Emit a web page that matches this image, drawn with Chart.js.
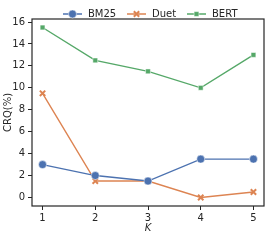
<!DOCTYPE html>
<html>
<head>
<meta charset="utf-8">
<script src="https://cdn.jsdelivr.net/npm/chart.js@4"></script>
<style>
  body { margin: 0; background: #fff; }
  canvas { display: block; }
</style>
</head>
<body>
<canvas id="chart" width="272" height="241"></canvas>
<script>
const kValues = [1, 2, 3, 4, 5];
const bm25 = [3, 2, 1.5, 3.5, 3.5];
const duet = [9.5, 1.5, 1.5, 0, 0.5];
const bert = [15.5, 12.5, 11.5, 10, 13];
const yTicks = [0, 2, 4, 6, 8, 10, 12, 14, 16];

const FONT = 'DejaVu Sans';
const DARK = '#262626';

function pts(values) {
    return kValues.map((k, i) => ({ x: k, y: values[i] }));
}

function drawMarker(ctx, ds, x, y) {
    ctx.save();
    ctx.fillStyle = ds.pointBackgroundColor;
    ctx.strokeStyle = ds.pointBorderColor;
    ctx.lineWidth = ds.pointBorderWidth;
    Chart.helpers.drawPoint(ctx, {
        pointStyle: ds.pointStyle,
        radius: ds.pointRadius,
        borderWidth: ds.pointBorderWidth,
    }, x, y);
    ctx.restore();
}

// frame around the plot + legend drawn like matplotlib
const framePlugin = {
    id: 'frame',
    afterDraw(chart) {
        const ctx = chart.ctx;
        const a = chart.chartArea;
        ctx.save();
        ctx.strokeStyle = DARK;
        ctx.lineWidth = 1.2;
        ctx.strokeRect(a.left, a.top, a.right - a.left, a.bottom - a.top);

        const starts = [63, 127, 187];
        const y = 14;
        ctx.font = '10px ' + FONT;
        ctx.textBaseline = 'middle';
        chart.data.datasets.forEach((ds, i) => {
            const x = starts[i];
            ctx.strokeStyle = ds.borderColor;
            ctx.lineWidth = 1.5;
            ctx.beginPath();
            ctx.moveTo(x, y);
            ctx.lineTo(x + 19, y);
            ctx.stroke();
            drawMarker(ctx, ds, x + 9.5, y);
            ctx.fillStyle = DARK;
            ctx.fillText(ds.label, x + 25, y + 0.5);
        });
        ctx.restore();
    }
};

new Chart(document.getElementById('chart'), {
    type: 'line',
    data: {
        datasets: [
            {
                label: 'BM25',
                data: pts(bm25),
                borderColor: '#4C72B0',
                borderWidth: 1.4,
                pointStyle: 'circle',
                pointRadius: 4,
                pointBackgroundColor: '#4C72B0',
                pointBorderColor: '#ffffff',
                pointBorderWidth: 0.5,
            },
            {
                label: 'Duet',
                data: pts(duet),
                borderColor: '#DD8452',
                borderWidth: 1.4,
                pointStyle: 'crossRot',
                pointRadius: 3.8,
                pointBackgroundColor: '#DD8452',
                pointBorderColor: '#DD8452',
                pointBorderWidth: 2,
            },
            {
                label: 'BERT',
                data: pts(bert),
                borderColor: '#55A868',
                borderWidth: 1.4,
                pointStyle: 'rect',
                pointRadius: 3.4,
                pointBackgroundColor: '#55A868',
                pointBorderColor: '#ffffff',
                pointBorderWidth: 0.5,
            },
        ],
    },
    options: {
        responsive: false,
        animation: false,
        layout: { padding: { top: 19, right: 8, left: 0, bottom: 0 } },
        plugins: {
            legend: { display: false },
            tooltip: { enabled: false },
        },
        scales: {
            x: {
                type: 'linear',
                min: 0.8,
                max: 5.2,
                afterBuildTicks: (s) => { s.ticks = kValues.map((v) => ({ value: v })); },
                afterFit: (s) => { s.height = 35; },
                grid: { drawOnChartArea: false, color: DARK, tickLength: 4, lineWidth: 1 },
                border: { display: false },
                ticks: { color: DARK, padding: 2, font: { family: FONT, size: 10 }, maxRotation: 0 },
                title: {
                    display: true,
                    text: 'K',
                    color: DARK,
                    font: { family: FONT, size: 10, style: 'italic' },
                    padding: { top: 0, bottom: 7 },
                },
            },
            y: {
                type: 'linear',
                min: -0.775,
                max: 16.275,
                afterBuildTicks: (s) => { s.ticks = yTicks.map((v) => ({ value: v })); },
                afterFit: (s) => { s.width = 32; },
                grid: { drawOnChartArea: false, color: DARK, tickLength: 4, lineWidth: 1 },
                border: { display: false },
                ticks: { color: DARK, padding: 3, font: { family: FONT, size: 10 } },
                title: {
                    display: true,
                    text: 'CRQ(%)',
                    color: DARK,
                    font: { family: FONT, size: 10 },
                    padding: { top: 2, bottom: 0 },
                },
            },
        },
    },
    plugins: [framePlugin],
});
</script>
</body>
</html>
